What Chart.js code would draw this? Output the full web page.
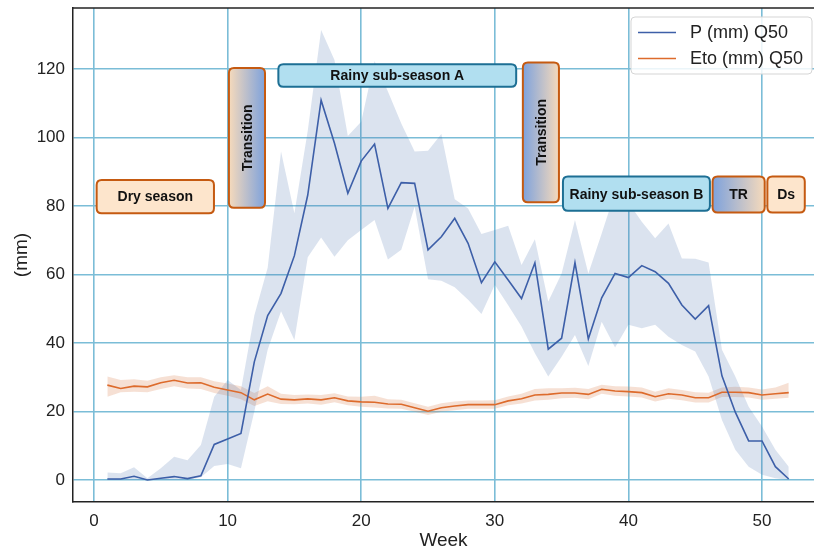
<!DOCTYPE html>
<html lang="en">
<head>
  <meta charset="UTF-8" />
  <title>Weekly P and Eto</title>
  <script src="https://cdn.jsdelivr.net/npm/chart.js"></script>
  <style>
    body { margin: 0; background: #fff; }
    #chart { display: block; }
  </style>
</head>
<body>
  <canvas id="chart" width="814" height="553"></canvas>

  <script>
    // weekly medians and their spread bands
    const weeks = [1,2,3,4,5,6,7,8,9,10,11,12,13,14,15,16,17,18,19,20,21,22,23,24,25,26,
                   27,28,29,30,31,32,33,34,35,36,37,38,39,40,41,42,43,44,45,46,47,48,49,50,51,52];
    const xTicks = [0, 10, 20, 30, 40, 50];
    const yTicks = [0, 20, 40, 60, 80, 100, 120];

    const pMedian = [0.3,0.3,1.1,0.0,0.5,1.0,0.4,1.2,10.4,12.0,13.6,34.5,48.0,54.5,65.5,83.2,110.9,98.3,83.7,93.1,98.1,79.3,86.8,86.6,67.2,71.0,
                     76.4,69.1,57.6,63.7,58.4,53.0,63.4,38.2,41.4,63.5,41.2,53.2,60.3,59.1,62.6,60.8,57.4,51.1,47.0,50.9,30.4,19.8,11.4,11.4,3.9,0.3];
    const pLow = [0,0,0,0,0,0,0,0.8,4.1,4.7,3.4,20,38,49.3,40.9,65,70.8,65.2,70,73,75.9,64.4,67.2,79.8,58.6,58.2,
                  56.3,52.6,48.5,57,51,44.8,37,30.2,36,42.3,33.3,46.2,38.7,45.3,44.3,45.3,41.8,39.4,37.5,30.2,17.5,8.8,3.9,1.5,0.5,0];
    const pHigh = [2.2,2.0,3.7,0.5,3.4,6.8,5.8,10.2,24.3,29.2,26.3,48,62,95.9,77.9,102,131.4,122.6,100.4,104.6,122.3,113.4,104.1,95.9,96.1,101,
                   82,79.3,71.8,73,74.2,62.8,70.3,52.1,60.3,75.9,60.3,72,84,81,75.4,70.6,74.9,64.7,64.6,63.5,38,30.2,21.4,15.6,8.8,3.9];

    const etoMedian = [27.7,26.7,27.4,27.2,28.4,29.1,28.3,28.4,27.1,26.3,25.5,23.4,25.1,23.6,23.4,23.7,23.4,24.0,23.1,22.8,22.7,22.2,22.1,21.1,20.1,21.1,
                       21.6,22.0,22.0,22.0,23.1,23.7,24.8,25.0,25.4,25.4,25.0,26.5,26.0,25.8,25.5,24.3,25.2,24.8,24.0,24.0,25.6,25.6,25.5,24.8,25.2,25.5];
    const etoLow = [24.3,25.6,25.8,25.6,26.6,27.4,26.7,26.6,25.4,24.6,23.6,21.6,23.0,22.2,22.1,22.3,22.0,22.7,21.8,21.4,21.2,20.9,20.8,19.9,19.0,19.9,
                    20.4,20.8,20.8,20.8,21.8,22.3,23.2,23.4,23.9,24.0,23.6,25.2,24.6,24.4,24.1,22.9,23.7,23.3,22.6,22.6,24.2,24.2,24.1,23.4,23.7,24.0];
    const etoHigh = [30.2,29.2,29.4,29.0,30.0,30.6,30.0,30.0,28.8,28.2,27.4,25.4,27.4,25.2,24.8,25.0,24.8,25.3,24.4,24.3,24.6,23.6,23.4,22.4,21.4,22.4,
                     22.9,23.2,23.2,23.3,24.4,25.2,26.6,26.8,26.8,26.9,26.6,27.8,27.4,27.3,27.0,25.8,26.8,26.3,25.6,25.5,27.0,27.2,27.0,26.4,27.0,28.4];

    // season annotations, in week / mm units
    const seasonNames = ['Dry season', 'Transition', 'Rainy sub-season A', 'Transition', 'Rainy sub-season B', 'TR', 'Ds'];
    const seasonFrom = [0.2, 10.1, 13.8, 32.1, 35.1, 46.3, 50.4];
    const seasonTo = [8.98, 12.8, 31.6, 34.8, 46.1, 50.2, 53.2];
    const seasonTop = [87.6, 120.3, 121.4, 121.9, 88.6, 88.6, 88.6];
    const seasonBottom = [77.9, 79.5, 114.8, 81.1, 78.6, 78.1, 78.1];
    const seasonKind = ['dry', 'toWet', 'wet', 'toDry', 'wet', 'toDry', 'dry'];

    const FONT = "'Liberation Sans', Arial, sans-serif";
    const INK = '#222';
    const GRID = '#7bbdd7';
    const PEACH = '#fde5cc', ORANGE = '#c55a11';
    const SKY = '#b1dff0', TEAL = '#1d6f94';
    const BLUE_GRAD = '#7ea2dc', PEACH_GRAD = '#f6dabb';

    const pts = vals => weeks.map((w, i) => ({ x: w, y: vals[i] }));

    function roundRect(ctx, x, y, w, h, r) {
      ctx.beginPath();
      ctx.moveTo(x + r, y);
      ctx.lineTo(x + w - r, y);
      ctx.quadraticCurveTo(x + w, y, x + w, y + r);
      ctx.lineTo(x + w, y + h - r);
      ctx.quadraticCurveTo(x + w, y + h, x + w - r, y + h);
      ctx.lineTo(x + r, y + h);
      ctx.quadraticCurveTo(x, y + h, x, y + h - r);
      ctx.lineTo(x, y + r);
      ctx.quadraticCurveTo(x, y, x + r, y);
      ctx.closePath();
    }

    const seasonBoxes = {
      id: 'seasonBoxes',
      afterDatasetsDraw(chart) {
        const { ctx, scales: { x, y } } = chart;
        ctx.save();
        seasonNames.forEach((name, i) => {
          const x0 = x.getPixelForValue(seasonFrom[i]);
          const x1 = x.getPixelForValue(seasonTo[i]);
          const y0 = y.getPixelForValue(seasonTop[i]);
          const y1 = y.getPixelForValue(seasonBottom[i]);
          const kind = seasonKind[i];
          let fill, stroke = ORANGE;
          if (kind === 'dry') fill = PEACH;
          else if (kind === 'wet') { fill = SKY; stroke = TEAL; }
          else {
            fill = ctx.createLinearGradient(x0, 0, x1, 0);
            fill.addColorStop(0, kind === 'toWet' ? PEACH_GRAD : BLUE_GRAD);
            fill.addColorStop(1, kind === 'toWet' ? BLUE_GRAD : PEACH_GRAD);
          }
          roundRect(ctx, x0, y0, x1 - x0, y1 - y0, 5);
          ctx.fillStyle = fill;
          ctx.fill();
          ctx.lineWidth = 2;
          ctx.strokeStyle = stroke;
          ctx.stroke();

          ctx.fillStyle = '#111';
          ctx.font = 'bold 14px ' + FONT;
          ctx.textAlign = 'center';
          ctx.textBaseline = 'middle';
          const cx = (x0 + x1) / 2, cy = (y0 + y1) / 2;
          if (name === 'Transition') {
            ctx.save();
            ctx.translate(cx + 1, cy);
            ctx.rotate(-Math.PI / 2);
            ctx.fillText(name, 0, 0);
            ctx.restore();
          } else {
            ctx.fillText(name, cx, cy + 1);
          }
        });
        ctx.restore();
      },
      afterDraw(chart) {
        const { ctx, chartArea } = chart;
        ctx.save();
        // top spine
        ctx.strokeStyle = INK;
        ctx.lineWidth = 1.5;
        ctx.beginPath();
        ctx.moveTo(chartArea.left, chartArea.top);
        ctx.lineTo(chartArea.right, chartArea.top);
        ctx.stroke();

        // legend for the two median lines
        const bx = 631, by = 17, bw = 181, bh = 57;
        roundRect(ctx, bx, by, bw, bh, 4);
        ctx.fillStyle = 'rgba(255,255,255,0.85)';
        ctx.fill();
        ctx.strokeStyle = '#d5d5d5';
        ctx.lineWidth = 1;
        ctx.stroke();
        ctx.font = '18px ' + FONT;
        ctx.textAlign = 'left';
        ctx.textBaseline = 'middle';
        chart.data.datasets.slice(0, 2).forEach((ds, i) => {
          const ly = by + 15.5 + i * 26;
          ctx.strokeStyle = ds.borderColor;
          ctx.lineWidth = 1.6;
          ctx.beginPath();
          ctx.moveTo(638, ly);
          ctx.lineTo(676, ly);
          ctx.stroke();
          ctx.fillStyle = INK;
          ctx.fillText(ds.label, 690, ly + 1);
        });
        ctx.restore();
      }
    };

    const line = { tension: 0, pointRadius: 0, fill: false };
    const band = { tension: 0, pointRadius: 0, borderColor: 'transparent', borderWidth: 1 };

    new Chart(document.getElementById('chart'), {
      type: 'line',
      data: {
        datasets: [
          { ...line, label: 'P (mm) Q50', data: pts(pMedian), borderColor: '#3d5fa8', borderWidth: 1.6 },
          { ...line, label: 'Eto (mm) Q50', data: pts(etoMedian), borderColor: '#dd6b2c', borderWidth: 1.6 },
          { ...band, label: 'P low', data: pts(pLow), fill: false },
          { ...band, label: 'P high', data: pts(pHigh), fill: '-1', backgroundColor: 'rgba(76,114,176,0.2)' },
          { ...band, label: 'Eto low', data: pts(etoLow), fill: false },
          { ...band, label: 'Eto high', data: pts(etoHigh), fill: '-1', backgroundColor: 'rgba(221,132,82,0.25)' }
        ]
      },
      options: {
        responsive: false,
        animation: false,
        devicePixelRatio: 1,
        layout: { padding: { top: 8, right: 0, bottom: 0, left: 0 } },
        plugins: { legend: { display: false }, tooltip: { enabled: false } },
        scales: {
          x: {
            type: 'linear',
            min: -1.57,
            max: 53.89,
            afterBuildTicks: s => { s.ticks = xTicks.map(v => ({ value: v })); },
            afterFit: s => { s.height = 51; s.paddingLeft = 0; s.paddingRight = 0; },
            grid: { color: GRID, lineWidth: 1.6, drawTicks: false },
            border: { color: INK, width: 1.5 },
            ticks: { padding: 9, color: INK, font: { family: FONT, size: 17 } },
            title: { display: true, text: 'Week', color: INK, font: { family: FONT, size: 19 }, padding: { top: 0, bottom: 1 } }
          },
          y: {
            min: -6.42,
            max: 137.8,
            afterBuildTicks: s => { s.ticks = yTicks.map(v => ({ value: v })); },
            afterFit: s => { s.width = 73; s.paddingTop = 0; s.paddingBottom = 0; },
            grid: { color: GRID, lineWidth: 1.6, drawTicks: false },
            border: { color: INK, width: 1.5 },
            ticks: { padding: 8, color: INK, font: { family: FONT, size: 17 } },
            title: { display: true, text: '(mm)', color: INK, font: { family: FONT, size: 19 }, padding: { top: 10, bottom: 0 } }
          }
        }
      },
      plugins: [seasonBoxes]
    });
  </script>
</body>
</html>
